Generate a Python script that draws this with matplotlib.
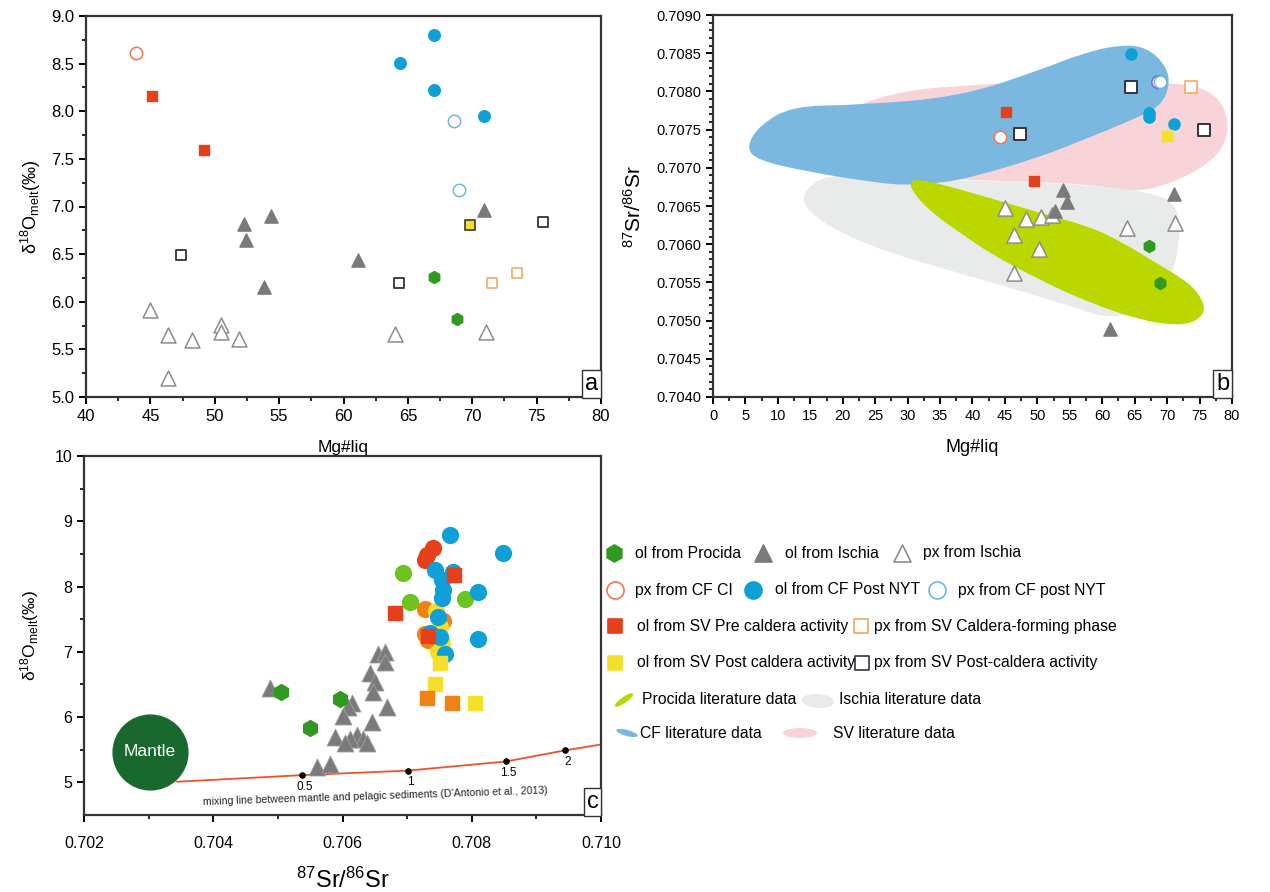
import numpy as np
import matplotlib
matplotlib.use("Agg")
import matplotlib.pyplot as plt
from matplotlib.path import Path
from matplotlib.patches import PathPatch, Ellipse

plt.rcParams["font.family"] = ["Liberation Sans", "DejaVu Sans"]
plt.rcParams["mathtext.default"] = "regular"
plt.rcParams["axes.linewidth"] = 1.6
plt.rcParams["axes.edgecolor"] = "#333333"

# ── colours ───────────────────────────────────────────────
C_PROCIDA = "#2f9a1f"
C_ISCHIA = "#7a7a7a"
C_ISCHIA_PX = "#8c8c8c"
C_CFCI = "#f0764e"
C_CFNYT = "#0fa0d8"
C_CFNYT_PX = "#70b4e4"
C_SVPRE = "#e6401a"
C_SVCF = "#f5a35a"
C_SVPOST = "#f6df2a"
C_SVPOST_PX = "#33333f"
C_LIME = "#6cc41e"
C_ORANGE = "#f08212"
F_PROCIDA = "#bad700"
F_ISCHIA = "#e9eaea"
F_CF = "#7ab8e0"
F_SV = "#f8d4d9"

# ── panel a : Mg#liq vs d18O ─────────────────────────────
a_procida_mg = [67.0, 68.8]
a_procida_o = [6.26, 5.82]
a_ischia_ol_mg = [52.3, 52.4, 54.4, 53.8, 61.1, 70.9]
a_ischia_ol_o = [6.82, 6.65, 6.90, 6.15, 6.44, 6.96]
a_ischia_px_mg = [45.0, 46.4, 48.2, 50.5, 50.5, 51.9, 46.4, 64.0, 71.1]
a_ischia_px_o = [5.91, 5.65, 5.60, 5.76, 5.68, 5.61, 5.20, 5.66, 5.68]
a_cfci_mg = [43.9]
a_cfci_o = [8.61]
a_cfnyt_ol_mg = [67.0, 64.4, 67.0, 70.9]
a_cfnyt_ol_o = [8.80, 8.51, 8.22, 7.95]
a_cfnyt_px_mg = [68.6, 69.0]
a_cfnyt_px_o = [7.90, 7.17]
a_svpre_mg = [45.1, 49.2]
a_svpre_o = [8.16, 7.59]
a_svcf_mg = [71.5, 73.5]
a_svcf_o = [6.20, 6.30]
a_svpost_ol_mg = [69.8]
a_svpost_ol_o = [6.81]
a_svpost_px_mg = [47.4, 64.3, 75.5]
a_svpost_px_o = [6.49, 6.20, 6.84]

# ── panel b : Mg#liq vs 87Sr/86Sr ────────────────────────
b_procida_mg = [67.2, 68.9]
b_procida_sr = [0.70598, 0.70549]
b_ischia_ol_mg = [53.9, 54.5, 52.7, 71.1, 61.2]
b_ischia_ol_sr = [0.70671, 0.70655, 0.70643, 0.70666, 0.70489]
b_ischia_px_mg = [45.0, 48.2, 50.6, 52.2, 46.4, 50.3, 46.4, 63.8, 71.2]
b_ischia_px_sr = [0.70647, 0.70633, 0.70636, 0.70638, 0.70612, 0.70594, 0.70562, 0.70621, 0.70628]
b_cfci_mg = [44.2]
b_cfci_sr = [0.70740]
b_cfnyt_ol_mg = [64.4, 67.2, 67.2, 71.1]
b_cfnyt_ol_sr = [0.70849, 0.70772, 0.70767, 0.70757]
b_cfnyt_px_mg = [68.6, 69.0]
b_cfnyt_px_sr = [0.70812, 0.70812]
b_svpre_mg = [45.2, 49.5]
b_svpre_sr = [0.70773, 0.70683]
b_svcf_mg = [73.7]
b_svcf_sr = [0.70806]
b_svpost_ol_mg = [70.0]
b_svpost_ol_sr = [0.70742]
b_svpost_px_mg = [64.4, 47.3, 75.7]
b_svpost_px_sr = [0.70806, 0.70744, 0.70749]

# literature fields (outline vertices, Mg#liq / 87Sr/86Sr)
cf_field_mg = [5.1, 7.2, 12.3, 22.2, 38.1, 50.4, 57.0, 62.7, 66.9, 70.0, 70.4,
               68.9, 64.7, 58.1, 50.4, 40.1, 35.0, 29.9, 24.7, 14.5, 6.8]
cf_field_sr = [0.70727, 0.70756, 0.70781, 0.70782, 0.70793, 0.70828, 0.70850,
               0.70861, 0.70858, 0.70832, 0.70806, 0.70780, 0.70763, 0.70740,
               0.70714, 0.70688, 0.70680, 0.70677, 0.70681, 0.70695, 0.70710]
sv_field_mg = [21.0, 25.0, 31.4, 38.1, 51.9, 70.9, 75.1, 78.2, 79.4, 79.2, 77.1,
               72.0, 65.8, 60.7, 53.0, 38.1, 24.2]
sv_field_sr = [0.70776, 0.70791, 0.70803, 0.70807, 0.70815, 0.70811, 0.70806,
               0.70789, 0.70763, 0.70736, 0.70710, 0.70684, 0.70668, 0.70675,
               0.70681, 0.70684, 0.70691]
ischia_field_mg = [17.6, 14.2, 13.9, 15.7, 19.6, 27.3, 38.1, 45.3, 55.5, 60.7,
                   65.8, 69.7, 71.2, 72.0, 71.7, 70.4, 66.9, 60.7, 50.4, 35.0, 24.2]
ischia_field_sr = [0.70691, 0.70671, 0.70654, 0.70636, 0.70615, 0.70588, 0.70562,
                   0.70544, 0.70518, 0.70503, 0.70511, 0.70540, 0.70570, 0.70615,
                   0.70641, 0.70658, 0.70668, 0.70675, 0.70681, 0.70684, 0.70688]
procida_field_mg = [30.1, 32.7, 40.1, 50.4, 58.1, 63.2, 68.4, 73.5, 75.5, 75.8,
                    74.0, 70.9, 65.8, 58.1, 50.4, 42.7, 38.1, 34.2, 31.1]
procida_field_sr = [0.70684, 0.70684, 0.70667, 0.70641, 0.70623, 0.70602, 0.70575,
                    0.70549, 0.70527, 0.70510, 0.70497, 0.70494, 0.70501, 0.70523,
                    0.70553, 0.70588, 0.70615, 0.70638, 0.70664]

# ── panel c : 87Sr/86Sr vs d18O ──────────────────────────
c_ischia_sr = [0.70488, 0.70655, 0.70666, 0.70666, 0.70643, 0.70650, 0.70647,
               0.70669, 0.70615, 0.70609, 0.70601, 0.70646, 0.70588, 0.70622,
               0.70632, 0.70612, 0.70604, 0.70638, 0.70561, 0.70581]
c_ischia_o = [6.45, 6.96, 6.99, 6.85, 6.68, 6.53, 6.38, 6.16, 6.22, 6.15, 6.01,
              5.93, 5.70, 5.73, 5.66, 5.66, 5.61, 5.61, 5.23, 5.28]
c_procida_sr = [0.70505, 0.70596, 0.70550]
c_procida_o = [6.38, 6.27, 5.83]
c_lime_sr = [0.70694, 0.70704, 0.70790]
c_lime_o = [8.21, 7.77, 7.81]
c_orange_ci_sr = [0.70728, 0.70755, 0.70728, 0.70732]
c_orange_ci_o = [7.65, 7.47, 7.28, 7.18]
c_yellow_ci_sr = [0.70745, 0.70751, 0.70754, 0.70748]
c_yellow_ci_o = [7.62, 7.38, 7.14, 7.00]
c_red_ci_sr = [0.70740, 0.70731, 0.70728]
c_red_ci_o = [8.59, 8.49, 8.41]
c_blue_sr = [0.70766, 0.70848, 0.70743, 0.70771, 0.70754, 0.70756, 0.70754,
             0.70810, 0.70748, 0.70735, 0.70751, 0.70810, 0.70759]
c_blue_o = [8.79, 8.52, 8.26, 8.23, 8.10, 7.95, 7.83, 7.91, 7.54, 7.29, 7.22,
            7.19, 6.97]
c_red_sq_sr = [0.70681, 0.70732, 0.70773]
c_red_sq_o = [7.60, 7.25, 8.17]
c_yellow_sq_sr = [0.70751, 0.70743, 0.70805]
c_yellow_sq_o = [6.83, 6.50, 6.22]
c_orange_sq_sr = [0.70731, 0.70769]
c_orange_sq_o = [6.30, 6.22]

mantle_sr, mantle_o = 0.70302, 5.47
mix_sr = [0.70344, 0.70537, 0.70701, 0.70853, 0.70944, 0.71000]
mix_o = [5.01, 5.11, 5.18, 5.32, 5.49, 5.58]
mix_tick_sr = [0.70537, 0.70701, 0.70853, 0.70944]
mix_tick_o = [5.11, 5.18, 5.32, 5.49]
mix_tick_lbl = ["0.5", "1", "1.5", "2"]

D18O = "δ$^{18}$O$_{melt}$(‰)"


def smooth_path(xs, ys):
    # closed outline drawn as quadratic Bezier through edge midpoints
    pts = np.column_stack([xs, ys])
    mids = (pts + np.roll(pts, -1, axis=0)) / 2
    verts, codes = [mids[-1]], [Path.MOVETO]
    for p, m in zip(pts, mids):
        verts += [p, m]
        codes += [Path.CURVE3, Path.CURVE3]
    return Path(verts, codes)


def panel_tag(ax, letter):
    ax.text(0.995, 0.006, letter, transform=ax.transAxes, ha="right", va="bottom",
            fontsize=17, zorder=10,
            bbox=dict(boxstyle="square,pad=0.12", fc="white", ec="#333333", lw=1.0))


def style_ticks(ax, size):
    ax.tick_params(which="major", direction="out", length=5, width=1.4, labelsize=size)
    ax.tick_params(which="minor", direction="out", length=3, width=1.2)


fig = plt.figure(figsize=(12.7, 8.92), dpi=100)

# ─────────── panel a ───────────
ax_a = fig.add_axes([86 / 1270, 1 - 397 / 892, 515 / 1270, 381 / 892])
ax_a.scatter(a_ischia_px_mg, a_ischia_px_o, marker="^", s=115, facecolor="white",
             edgecolor=C_ISCHIA_PX, linewidth=1.1)
ax_a.scatter(a_ischia_ol_mg, a_ischia_ol_o, marker="^", s=90, color=C_ISCHIA)
ax_a.scatter(a_procida_mg, a_procida_o, marker="h", s=75, color=C_PROCIDA)
ax_a.scatter(a_cfci_mg, a_cfci_o, marker="o", s=80, facecolor="white",
             edgecolor=C_CFCI, linewidth=1.1)
ax_a.scatter(a_cfnyt_ol_mg, a_cfnyt_ol_o, marker="o", s=70, color=C_CFNYT)
ax_a.scatter(a_cfnyt_px_mg, a_cfnyt_px_o, marker="o", s=80, facecolor="white",
             edgecolor=C_CFNYT_PX, linewidth=1.1)
ax_a.scatter(a_svpre_mg, a_svpre_o, marker="s", s=50, color=C_SVPRE)
ax_a.scatter(a_svcf_mg, a_svcf_o, marker="s", s=60, facecolor="white",
             edgecolor=C_SVCF, linewidth=1.1)
ax_a.scatter(a_svpost_ol_mg, a_svpost_ol_o, marker="s", s=60, facecolor=C_SVPOST,
             edgecolor="#444444", linewidth=1.3)
ax_a.scatter(a_svpost_px_mg, a_svpost_px_o, marker="s", s=60, facecolor="white",
             edgecolor=C_SVPOST_PX, linewidth=1.3)
ax_a.set_xlim(40, 80)
ax_a.set_ylim(5.0, 9.0)
ax_a.set_xticks(np.arange(40, 81, 5))
ax_a.set_xticks(np.arange(42.5, 80, 5), minor=True)
ax_a.set_yticks(np.arange(5.0, 9.01, 0.5))
ax_a.set_yticks(np.arange(5.25, 9.0, 0.5), minor=True)
ax_a.yaxis.set_major_formatter(matplotlib.ticker.FormatStrFormatter("%.1f"))
style_ticks(ax_a, 12)
ax_a.set_xlabel("Mg#liq", fontsize=12.5, labelpad=12)
ax_a.set_ylabel(D18O, fontsize=13, labelpad=6)
panel_tag(ax_a, "a")

# ─────────── panel b ───────────
ax_b = fig.add_axes([713 / 1270, 1 - 397 / 892, 519 / 1270, 382 / 892])
for fx, fy, fc, z in [(ischia_field_mg, ischia_field_sr, F_ISCHIA, 1),
                      (sv_field_mg, sv_field_sr, F_SV, 2),
                      (cf_field_mg, cf_field_sr, F_CF, 3),
                      (procida_field_mg, procida_field_sr, F_PROCIDA, 4)]:
    ax_b.add_patch(PathPatch(smooth_path(fx, fy), fc=fc, ec="none", zorder=z))
ax_b.scatter(b_ischia_px_mg, b_ischia_px_sr, marker="^", s=120, facecolor="white",
             edgecolor=C_ISCHIA_PX, linewidth=1.1, zorder=5)
ax_b.scatter(b_ischia_ol_mg, b_ischia_ol_sr, marker="^", s=90, color=C_ISCHIA, zorder=5)
ax_b.scatter(b_procida_mg, b_procida_sr, marker="h", s=75, color=C_PROCIDA, zorder=5)
ax_b.scatter(b_cfci_mg, b_cfci_sr, marker="o", s=80, facecolor="white",
             edgecolor=C_CFCI, linewidth=1.1, zorder=5)
ax_b.scatter(b_cfnyt_ol_mg, b_cfnyt_ol_sr, marker="o", s=65, color=C_CFNYT, zorder=5)
ax_b.scatter(b_cfnyt_px_mg, b_cfnyt_px_sr, marker="o", s=80, facecolor="white",
             edgecolor=["#7a60c8", C_CFNYT_PX], linewidth=1.1, zorder=5)
ax_b.scatter(b_svpre_mg, b_svpre_sr, marker="s", s=55, color=C_SVPRE, zorder=5)
ax_b.scatter(b_svcf_mg, b_svcf_sr, marker="s", s=70, facecolor="white",
             edgecolor=C_SVCF, linewidth=1.1, zorder=5)
ax_b.scatter(b_svpost_ol_mg, b_svpost_ol_sr, marker="s", s=70, facecolor=C_SVPOST,
             edgecolor="#e8e090", linewidth=1.0, zorder=5)
ax_b.scatter(b_svpost_px_mg, b_svpost_px_sr, marker="s", s=75, facecolor="white",
             edgecolor=C_SVPOST_PX, linewidth=1.4, zorder=5)
ax_b.set_xlim(0, 80)
ax_b.set_ylim(0.7040, 0.7090)
ax_b.set_xticks(np.arange(0, 81, 5))
ax_b.set_xticks(np.arange(2.5, 80, 5), minor=True)
ax_b.set_yticks(np.arange(0.7040, 0.70901, 0.0005))
ax_b.set_yticks(np.arange(0.7040, 0.70901, 0.0001), minor=True)
ax_b.yaxis.set_major_formatter(matplotlib.ticker.FormatStrFormatter("%.4f"))
style_ticks(ax_b, 10.5)
ax_b.set_xlabel("Mg#liq", fontsize=13, labelpad=12)
ax_b.set_ylabel("$^{87}$Sr/$^{86}$Sr", fontsize=15, labelpad=8)
panel_tag(ax_b, "b")

# ─────────── panel c ───────────
ax_c = fig.add_axes([84 / 1270, 1 - 815 / 892, 517 / 1270, 359 / 892])
ax_c.scatter([mantle_sr], [mantle_o], s=2900, color="#19692e", zorder=2)
ax_c.text(mantle_sr, mantle_o, "Mantle", color="white", fontsize=12.5,
          ha="center", va="center", zorder=3)
ax_c.plot(mix_sr, mix_o, color="#f0502a", lw=1.3, zorder=2)
ax_c.scatter(mix_tick_sr, mix_tick_o, s=14, color="black", zorder=3)
for sx, so, lb in zip(mix_tick_sr, mix_tick_o, mix_tick_lbl):
    ax_c.annotate(lb, (sx, so), xytext=(2, -4), textcoords="offset points",
                  ha="center", va="top", fontsize=8.5)
ax_c.annotate("mixing line between mantle and pelagic sediments (D'Antonio et al., 2013)",
              xy=(0.5631, 0.052), xycoords="axes fraction", ha="center", va="center",
              fontsize=7.6, rotation=1.9, color="#222222")
ax_c.scatter(c_ischia_sr, c_ischia_o, marker="^", s=150, color=C_ISCHIA,
             edgecolor="#a0a0a0", linewidth=0.6, zorder=4)
ax_c.scatter(c_procida_sr, c_procida_o, marker="h", s=130, color=C_PROCIDA, zorder=4)
ax_c.scatter(c_lime_sr, c_lime_o, marker="o", s=130, color=C_LIME, zorder=4)
ax_c.scatter(c_orange_ci_sr, c_orange_ci_o, marker="o", s=130, color=C_ORANGE, zorder=4)
ax_c.scatter(c_yellow_ci_sr, c_yellow_ci_o, marker="o", s=130, color=C_SVPOST, zorder=4)
ax_c.scatter(c_red_ci_sr, c_red_ci_o, marker="o", s=130, color=C_SVPRE, zorder=4)
ax_c.scatter(c_blue_sr, c_blue_o, marker="o", s=130, color=C_CFNYT, zorder=4)
ax_c.scatter(c_red_sq_sr, c_red_sq_o, marker="s", s=110, color=C_SVPRE, zorder=5)
ax_c.scatter(c_yellow_sq_sr, c_yellow_sq_o, marker="s", s=110, color=C_SVPOST, zorder=5)
ax_c.scatter(c_orange_sq_sr, c_orange_sq_o, marker="s", s=110, color=C_ORANGE, zorder=5)
ax_c.set_xlim(0.702, 0.710)
ax_c.set_ylim(4.5, 10)
ax_c.set_xticks(np.arange(0.702, 0.7101, 0.002))
ax_c.set_xticks(np.arange(0.703, 0.710, 0.002), minor=True)
ax_c.set_yticks(np.arange(5, 10.1, 1))
ax_c.set_yticks(np.arange(5.5, 10, 1), minor=True)
ax_c.xaxis.set_major_formatter(matplotlib.ticker.FormatStrFormatter("%.3f"))
style_ticks(ax_c, 11.5)
ax_c.tick_params(axis="x", pad=10)
ax_c.set_xlabel("$^{87}$Sr/$^{86}$Sr", fontsize=17, labelpad=12)
ax_c.set_ylabel(D18O, fontsize=12.5, labelpad=10)
panel_tag(ax_c, "c")

# ─────────── legend (pixel layout) ───────────
lg = fig.add_axes([0, 0, 1, 1], facecolor="none")
lg.set_xlim(0, 1270)
lg.set_ylim(892, 0)
lg.axis("off")
FS = 11.3
rows = [
    [(614, 553, "h", C_PROCIDA, C_PROCIDA, "ol from Procida", 635),
     (763, 553, "^", C_ISCHIA, C_ISCHIA, "ol from Ischia", 785),
     (902, 553, "^", "white", C_ISCHIA_PX, "px from Ischia", 923)],
    [(615, 590, "o", "white", C_CFCI, "px from CF CI", 635),
     (753, 590, "o", C_CFNYT, C_CFNYT, "ol from CF Post NYT", 775),
     (937, 590, "o", "white", C_CFNYT_PX, "px from CF post NYT", 958)],
    [(615, 626, "s", C_SVPRE, C_SVPRE, "ol from SV Pre caldera activity", 637),
     (861, 626, "s", "white", C_SVCF, "px from SV Caldera-forming phase", 874)],
    [(615, 663, "s", C_SVPOST, C_SVPOST, "ol from SV Post caldera activity", 637),
     (862, 663, "s", "white", C_SVPOST_PX, "px from SV Post-caldera activity", 874)],
]
for row in rows:
    for x, y, m, fc, ec, label, tx in row:
        lg.scatter([x], [y], marker=m, s=150 if m != "s" else 110,
                   facecolor=fc, edgecolor=ec, linewidth=1.2)
        lg.text(tx, y, label, fontsize=FS, va="center", ha="left")
lg.add_patch(Ellipse((624, 700), 22, 6, angle=-35, fc=F_PROCIDA, ec="none"))
lg.text(642, 700, "Procida literature data", fontsize=FS, va="center")
lg.add_patch(Ellipse((818, 701), 32, 14, angle=4, fc=F_ISCHIA, ec="none"))
lg.text(839, 700, "Ischia literature data", fontsize=FS, va="center")
lg.add_patch(Ellipse((627, 733), 22, 6, angle=15, fc=F_CF, ec="none"))
lg.text(640, 733, "CF literature data", fontsize=FS, va="center")
lg.add_patch(Ellipse((800, 733), 34, 10, angle=0, fc=F_SV, ec="none"))
lg.text(833, 733, "SV literature data", fontsize=FS, va="center")

fig.savefig("out.png", dpi=100)
